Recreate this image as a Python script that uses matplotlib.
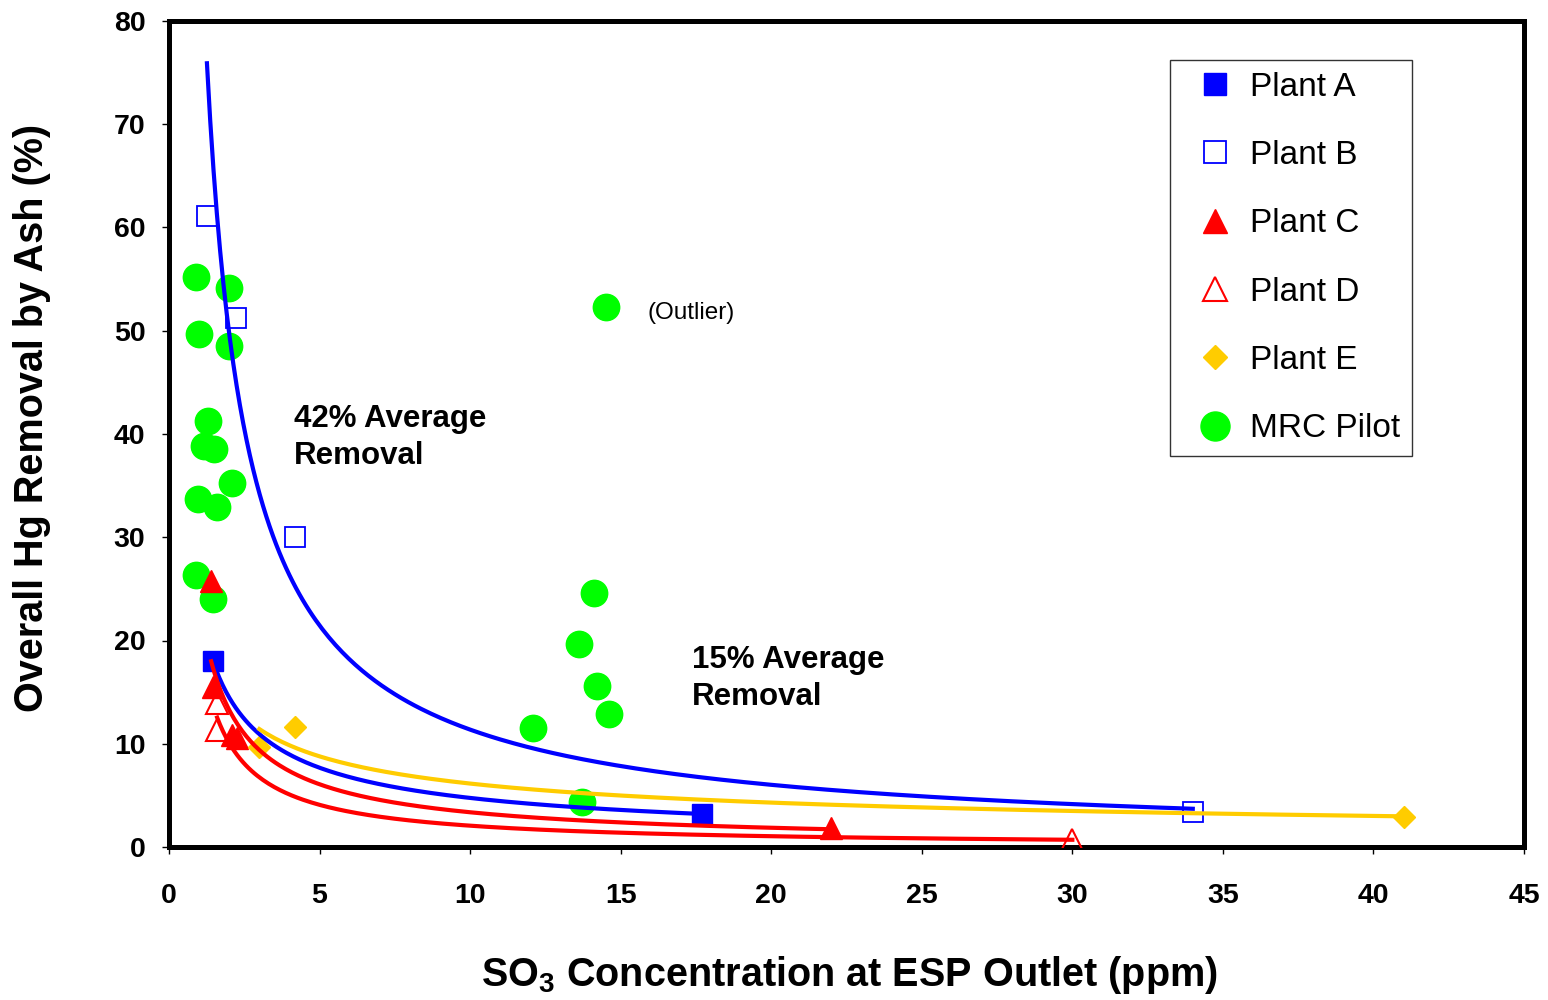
import numpy as np
import matplotlib
matplotlib.use("Agg")
import matplotlib.pyplot as plt

plt.rcParams['font.family'] = ['Liberation Sans', 'DejaVu Sans']
plt.rcParams['mathtext.fontset'] = 'custom'
plt.rcParams['mathtext.rm'] = 'Liberation Sans:bold'
plt.rcParams['mathtext.it'] = 'Liberation Sans:bold'
plt.rcParams['mathtext.bf'] = 'Liberation Sans:bold'

# SO3 (ppm) vs overall Hg removal by ash (%)
plant_a_x = [1.46, 17.7]
plant_a_y = [18.0, 3.2]
plant_b_x = [1.26, 2.23, 4.19, 34.0]
plant_b_y = [61.1, 51.2, 30.0, 3.4]
plant_c_x = [1.40, 1.45, 2.1, 2.25, 22.0]
plant_c_y = [25.8, 15.5, 10.8, 10.6, 1.8]
plant_d_x = [1.6, 1.6, 30.0]
plant_d_y = [13.9, 11.3, 0.7]
plant_e_x = [3.0, 4.19, 41.0]
plant_e_y = [9.7, 11.6, 2.9]
mrc_x = [0.9, 2.0, 1.0, 2.0, 1.3, 1.16, 1.5, 2.1, 0.96, 1.6, 0.9, 1.46,
         14.5, 14.1, 13.6, 14.2, 14.6, 12.1, 13.7]
mrc_y = [55.2, 54.1, 49.7, 48.5, 41.3, 38.8, 38.5, 35.3, 33.7, 32.9, 26.3, 24.0,
         52.3, 24.6, 19.7, 15.6, 12.9, 11.5, 4.4]

BLUE = '#0000FF'
RED = '#FF0000'
YELLOW = '#FFCC00'
GREEN = '#00FF00'

fig = plt.figure(figsize=(15.48, 10.0), dpi=100)
ax = fig.add_axes([169 / 1548, 153 / 1000, (1524 - 169) / 1548, (847 - 21) / 1000])

ax.plot(plant_a_x, plant_a_y, 's', color=BLUE, ms=15, mec=BLUE, label='Plant A', zorder=3)
ax.plot(plant_b_x, plant_b_y, 's', mfc='none', mec=BLUE, mew=1.3, ms=14, label='Plant B', zorder=3)
ax.plot(plant_c_x, plant_c_y, '^', color=RED, ms=16, label='Plant C', zorder=3)
ax.plot(plant_d_x, plant_d_y, '^', mfc='none', mec=RED, mew=1.5, ms=16, label='Plant D', zorder=3)
ax.plot(plant_e_x, plant_e_y, 'D', color=YELLOW, ms=11.5, label='Plant E', zorder=3)
ax.plot(mrc_x, mrc_y, 'o', color=GREEN, ms=19, label='MRC Pilot', zorder=2)


# power trendlines, fitted in log-log like the spreadsheet does
def power_fit(xs, ys, color):
    xs = np.asarray(xs)
    b, ln_a = np.polyfit(np.log(xs), np.log(ys), 1)
    xx = np.linspace(xs.min(), xs.max(), 300)
    ax.plot(xx, np.exp(ln_a) * xx ** b, '-', color=color, lw=3.0, zorder=4)


power_fit(plant_b_x, plant_b_y, BLUE)
power_fit(plant_a_x, plant_a_y, BLUE)
power_fit(plant_e_x, plant_e_y, YELLOW)
power_fit(plant_c_x, plant_c_y, RED)
power_fit(plant_d_x, plant_d_y, RED)

ax.set_xlim(0, 45)
ax.set_ylim(0, 80)
ax.set_xticks(np.arange(0, 46, 5))
ax.set_yticks(np.arange(0, 81, 10))
for s in ax.spines.values():
    s.set_linewidth(3.6)
    s.set_color('black')
ax.tick_params(axis='both', direction='out', length=5, width=1, labelsize=20.5)
ax.tick_params(axis='x', pad=21)
ax.tick_params(axis='y', pad=12)
for lab in ax.get_xticklabels() + ax.get_yticklabels():
    lab.set_fontweight('bold')

ax.text(4.15, 39.7, '42% Average\nRemoval', fontsize=22.5, fontweight='bold',
        ha='left', va='center', linespacing=1.3)
ax.text(17.37, 16.3, '15% Average\nRemoval', fontsize=22.5, fontweight='bold',
        ha='left', va='center', linespacing=1.3)
ax.text(15.88, 51.7, '(Outlier)', fontsize=17.5, ha='left', va='center')

fig.text(849 / 1548, 1 - 975 / 1000, 'SO$_3$ Concentration at ESP Outlet (ppm)',
         fontsize=28.5, fontweight='bold', ha='center', va='center')
fig.text(32 / 1548, 1 - 418 / 1000, 'Overall Hg Removal by Ash (%)',
         fontsize=28.5, fontweight='bold', ha='center', va='center', rotation=90)

leg = ax.legend(loc='upper left', bbox_to_anchor=(1170 / 1548, 1 - 60 / 1000),
                bbox_transform=fig.transFigure, fontsize=24, frameon=True,
                fancybox=False, shadow=False, borderaxespad=0, borderpad=0.35,
                handlelength=2.0, handletextpad=0.05, labelspacing=1.12,
                numpoints=1, markerscale=1.1)
leg.get_frame().set_edgecolor('black')
leg.get_frame().set_linewidth(1.0)

fig.savefig('out.png', dpi=100)
